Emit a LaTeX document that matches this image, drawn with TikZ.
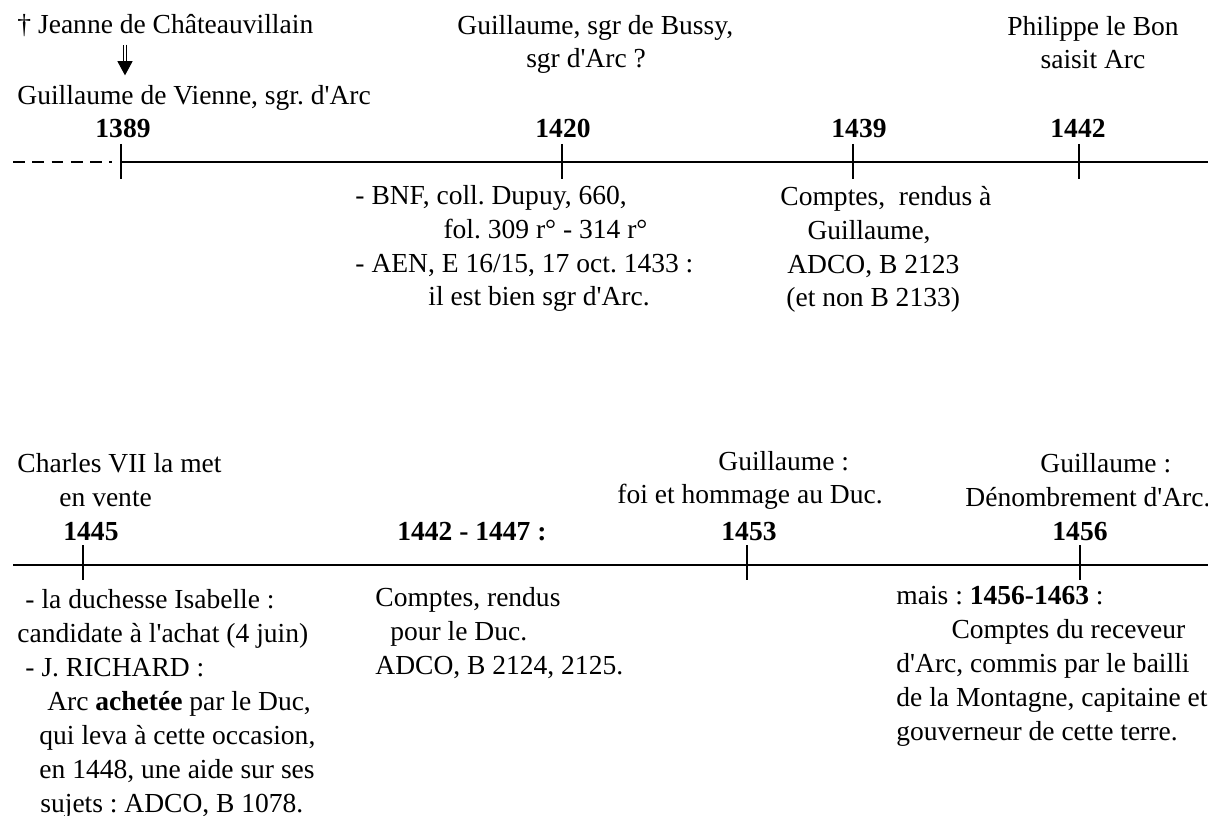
\documentclass[tikz,border=0pt]{standalone}
\usepackage{fontspec}
\newfontfamily\timesfont{Liberation Serif}
\usepackage{tikz}
\usetikzlibrary{arrows.meta,positioning}
\tikzset{
  txtnode/.style={inner sep=0pt,align=left,anchor=base west,
                  font=\timesfont\frenchspacing\fontsize{12pt}{14.8pt}\selectfont},
  yearnode/.style={inner sep=0pt,anchor=base,
                   font=\timesfont\bfseries\fontsize{12pt}{14.8pt}\selectfont},
  axisline/.style={line width=1pt,color=black},
  dashline/.style={axisline,dash pattern=on 5.2pt off 3.2pt},
  tickline/.style={line width=1pt,color=black},
  dblarr/.style={double,double distance=1.1pt,line width=0.45pt,
                 -{Triangle[width=6.6pt,length=6.2pt]}}
}
\newcommand{\ind}[1]{\hspace*{#1}}

\begin{document}
\begin{tikzpicture}[x=0.436pt,y=-0.436pt]
  \useasboundingbox (0,0) rectangle (1208,816);

  % top timeline (multi-line nodes sit on the baseline of their last line)
  \coordinate (t1389) at (121,162);
  \coordinate (t1420) at (562,162);
  \coordinate (t1439) at (853,162);
  \coordinate (t1442) at (1079,162);
  \coordinate (topend) at (1208,162);
  \coordinate (dashstart) at (13,162);
  \draw[dashline] (dashstart) -- ++(99,0);
  \draw[axisline] (t1389) -- (topend);
  \foreach \t in {t1389,t1420,t1439,t1442}
    \draw[tickline] (\t) ++(0,-18) -- ++(0,35);

  \node[yearnode] (y1389) at (123,138) {1389};
  \node[yearnode] (y1420) at (563,138) {1420};
  \node[yearnode] (y1439) at (859,138) {1439};
  \node[yearnode] (y1442) at (1078,138) {1442};

  \node[txtnode] (jeanne) at (17,34) {† Jeanne de Châteauvillain};
  \node[txtnode] (vienne) at (17,105) {Guillaume de Vienne, sgr. d'Arc};
  \coordinate (arrx) at (125,0);
  \draw[dblarr,shorten <=3pt,shorten >=4.4pt]
    (jeanne.south -| arrx) -- (vienne.north -| arrx);

  \node[txtnode] (bussy) at (457,68)
    {Guillaume, sgr de Bussy,\\\ind{30pt}sgr d'Arc ?};
  \node[txtnode,align=center,anchor=base] (philippe) at (1093,69)
    {Philippe le Bon\\saisit Arc};

  \node[txtnode] (bnf) at (355,306)
    {- BNF, coll. Dupuy, 660,\\\ind{38.4pt}fol. 309 r° - 314 r°\\
     - AEN, E 16/15, 17 oct. 1433 :\\\ind{31.8pt}il est bien sgr d'Arc.};
  \node[txtnode] (comptesg) at (780,307)
    {Comptes,\ \ rendus à\\\ind{11.8pt}Guillaume,\\\ind{3pt}ADCO, B 2123\\
     \ind{2.6pt}(et non B 2133)};

  % bottom timeline
  \coordinate (botstart) at (13,565);
  \coordinate (botend) at (1208,565);
  \coordinate (t1445) at (83,565);
  \coordinate (t1453) at (747,565);
  \coordinate (t1456) at (1080,565);
  \draw[axisline] (botstart) -- (botend);
  \foreach \t in {t1445,t1453,t1456}
    \draw[tickline] (\t) ++(0,-20) -- ++(0,35);

  \node[yearnode] (y1445) at (91,540) {1445};
  \node[yearnode,anchor=base west] (y1442b) at (397,540) {1442 - 1447 :};
  \node[yearnode] (y1453) at (749,540) {1453};
  \node[yearnode] (y1456) at (1080,540) {1456};

  \node[txtnode] (charles) at (17,506)
    {Charles VII la met\\\ind{18.3pt}en vente};
  \node[txtnode] (foi) at (617,504)
    {\ind{44pt}Guillaume :\\foi et hommage au Duc.};
  \node[txtnode] (denomb) at (965,506)
    {\ind{32.7pt}Guillaume :\\Dénombrement d'Arc.};

  \node[txtnode] (isabelle) at (17,812)
    {\ind{3.5pt}- la duchesse Isabelle :\\candidate à l'achat (4 juin)\\
     \ind{3.5pt}- J. RICHARD :\\\ind{13pt}Arc \textbf{achetée} par le Duc,\\
     \ind{9.6pt}qui leva à cette occasion,\\\ind{9.6pt}en 1448, une aide sur ses\\
     \ind{10pt}sujets : ADCO, B 1078.};
  \node[txtnode] (comptesd) at (375,674)
    {Comptes, rendus\\\ind{6.5pt}pour le Duc.\\ADCO, B 2124, 2125.};
  \node[txtnode] (receveur) at (896,740)
    {mais : \textbf{1456-1463} :\\\ind{24pt}Comptes du receveur\\
     d'Arc, commis par le bailli\\de la Montagne, capitaine et\\
     gouverneur de cette terre.};
\end{tikzpicture}
\end{document}
